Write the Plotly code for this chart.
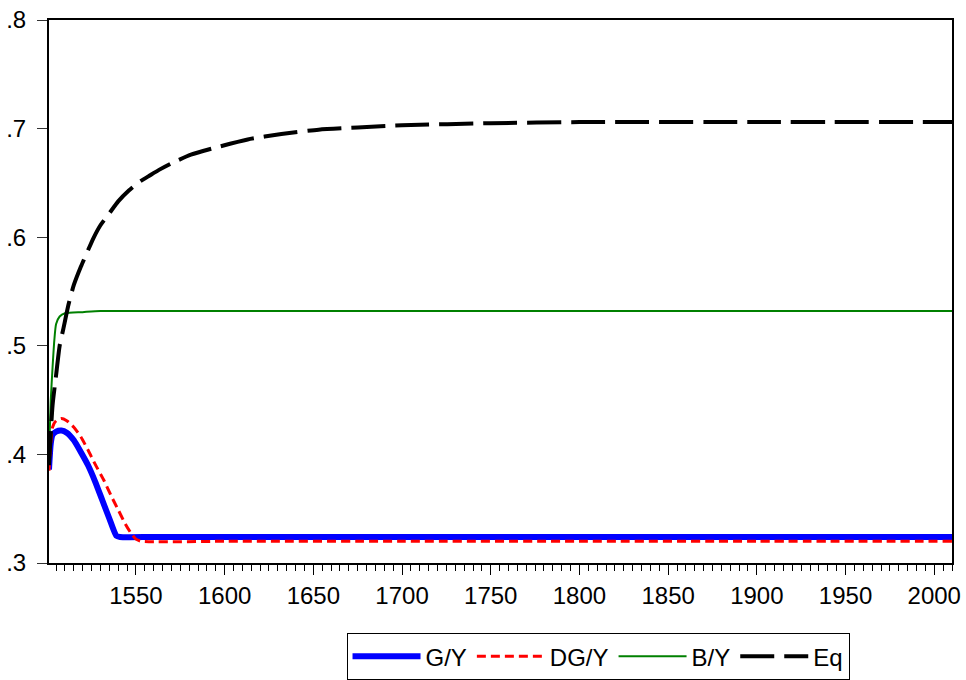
import plotly.graph_objects as go

# ---- data ----
gy_years = [1501, 1502, 1503, 1505, 1508, 1511, 1515, 1519, 1523, 1527, 1531, 1535, 1539, 1541, 1560, 1600, 1700, 1800, 1900, 2010]
gy_vals  = [0.386, 0.410, 0.418, 0.421, 0.422, 0.420, 0.413, 0.402, 0.390, 0.375, 0.358, 0.341, 0.325, 0.324, 0.324, 0.324, 0.324, 0.324, 0.324, 0.324]

dgy_years = [1501, 1502, 1503, 1505, 1508, 1511, 1515, 1519, 1523, 1527, 1532, 1536, 1540, 1544, 1547, 1550, 1553, 1600, 1700, 1800, 1900, 2010]
dgy_vals  = [0.385, 0.410, 0.425, 0.431, 0.433, 0.431, 0.425, 0.416, 0.404, 0.391, 0.376, 0.362, 0.349, 0.336, 0.328, 0.322, 0.320, 0.320, 0.320, 0.320, 0.320, 0.320]

by_years = [1501, 1502, 1503, 1504, 1505, 1507, 1510, 1520, 1530, 1600, 1700, 1800, 1900, 2010]
by_vals  = [0.400, 0.450, 0.480, 0.505, 0.520, 0.527, 0.530, 0.531, 0.532, 0.532, 0.532, 0.532, 0.532, 0.532]

eq_years = [1501, 1503, 1505, 1507, 1509, 1512, 1515, 1519, 1523, 1526, 1530, 1535, 1540, 1546, 1552, 1557, 1563, 1570, 1581, 1596, 1613, 1632, 1653, 1675, 1700, 1750, 1800, 1900, 2010]
eq_vals  = [0.390, 0.445, 0.473, 0.500, 0.515, 0.538, 0.556, 0.573, 0.588, 0.599, 0.611, 0.622, 0.633, 0.643, 0.651, 0.656, 0.662, 0.668, 0.676, 0.683, 0.690, 0.695, 0.699, 0.701, 0.703, 0.705, 0.706, 0.706, 0.706]

x_tickvals = [1550, 1600, 1650, 1700, 1750, 1800, 1850, 1900, 1950, 2000]
x_ticktext = ["1550", "1600", "1650", "1700", "1750", "1800", "1850", "1900", "1950", "2000"]
y_tickvals = [0.3, 0.4, 0.5, 0.6, 0.7, 0.8]
y_ticktext = [".3", ".4", ".5", ".6", ".7", ".8"]

FONT = "Liberation Sans, Arial, sans-serif"

fig = go.Figure()
fig.add_trace(go.Scatter(x=gy_years, y=gy_vals, mode="lines", name="G/Y",
                         line=dict(color="#0000ff", width=6, shape="spline", smoothing=0.6)))
fig.add_trace(go.Scatter(x=dgy_years, y=dgy_vals, mode="lines", name="DG/Y",
                         line=dict(color="#ff0000", width=3, dash="9px,5px", shape="spline", smoothing=0.6)))
fig.add_trace(go.Scatter(x=by_years, y=by_vals, mode="lines", name="B/Y",
                         line=dict(color="#008000", width=2, shape="spline", smoothing=0.6)))
fig.add_trace(go.Scatter(x=eq_years, y=eq_vals, mode="lines", name="Eq",
                         line=dict(color="#000000", width=4, dash="34px,10px", shape="spline", smoothing=0.6)))

fig.update_layout(
    width=966, height=680,
    margin=dict(l=49, r=14, t=20, b=117, autoexpand=False),
    paper_bgcolor="white", plot_bgcolor="white",
    font=dict(family=FONT, size=24, color="black"),
    showlegend=True,
    legend=dict(orientation="h", x=0.608, xanchor="center", y=-0.129, yanchor="top",
                bordercolor="black", borderwidth=1, bgcolor="white",
                font=dict(size=24), itemwidth=68, tracegroupgap=0),
)
fig.update_xaxes(range=[1501, 2010], tickmode="array", tickvals=x_tickvals, ticktext=x_ticktext,
                 ticks="outside", ticklen=10, tickwidth=1, tickcolor="black",
                 showline=True, linecolor="black", linewidth=2, mirror=True,
                 showgrid=False, zeroline=False, automargin=False, ticklabeloverflow="allow",
                 minor=dict(tick0=1500, dtick=5, ticks="outside", ticklen=6, tickwidth=1, tickcolor="black", showgrid=False))
fig.update_yaxes(range=[0.3, 0.8], tickmode="array", tickvals=y_tickvals, ticktext=y_ticktext,
                 ticks="outside", ticklen=10, tickwidth=1, tickcolor="#333", ticklabelstandoff=6,
                 showline=True, linecolor="black", linewidth=2, mirror=True,
                 showgrid=False, zeroline=False, automargin=False, ticklabeloverflow="allow")

fig.write_html("out.html", config={"displayModeBar": False},
               post_script="document.body.style.margin='0';")
